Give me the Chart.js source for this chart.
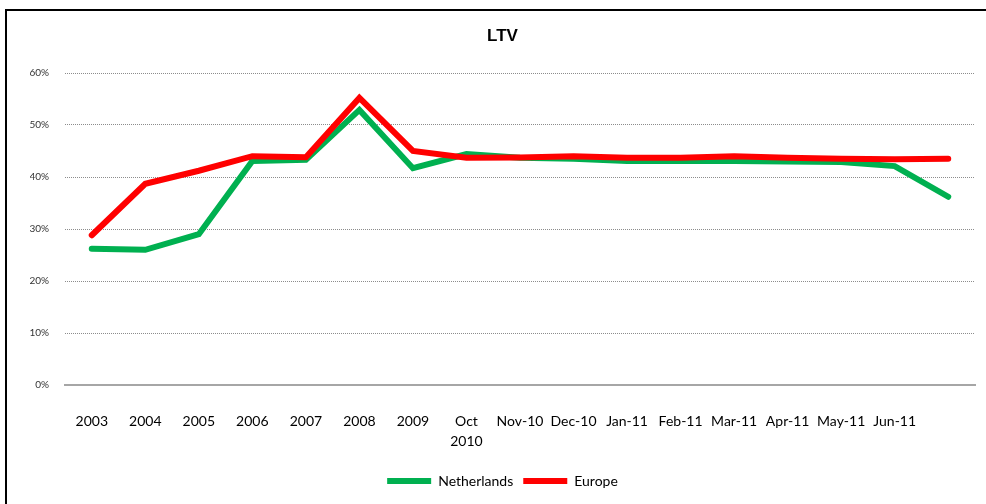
<!DOCTYPE html>
<html>
<head>
<meta charset="utf-8">
<script src="https://cdn.jsdelivr.net/npm/chart.js@4"></script>
<style>
    html, body { margin: 0; padding: 0; background: #fff; }
    #wrap { position: relative; width: 986px; height: 504px; overflow: hidden; }
    #frame { position: absolute; left: 5px; top: 9px; width: 1010px; height: 600px; border: 2px solid #000; pointer-events: none; }
</style>
</head>
<body>
<div id="wrap">
    <canvas id="lineChart" width="986" height="504"></canvas>
    <div id="frame"></div>
</div>
<script>
const categories = ["2003", "2004", "2005", "2006", "2007", "2008", "2009", ["Oct", "2010"],
    "Nov-10", "Dec-10", "Jan-11", "Feb-11", "Mar-11", "Apr-11", "May-11", "Jun-11", ""];
const netherlands = [26.2, 26.0, 29.0, 43.1, 43.3, 52.9, 41.7, 44.4, 43.7, 43.5, 43.1, 43.1, 43.1, 43.0, 42.9, 42.1, 36.2];
const europe = [28.8, 38.7, 41.2, 44.0, 43.8, 55.2, 45.0, 43.7, 43.75, 44.0, 43.7, 43.7, 44.0, 43.7, 43.5, 43.4, 43.5];
const yTicks = [0, 10, 20, 30, 40, 50, 60];

const bodyFont = "Lato, 'Open Sans', sans-serif";

new Chart(document.getElementById("lineChart"), {
    type: "line",
    data: {
        labels: categories,
        datasets: [{
            label: "Netherlands",
            data: netherlands,
            borderColor: "#00b050",
            backgroundColor: "#00b050",
            borderWidth: 6,
            pointRadius: 0,
            tension: 0,
            borderCapStyle: "round",
            order: 1
        }, {
            label: "Europe",
            data: europe,
            borderColor: "#ff0000",
            backgroundColor: "#ff0000",
            borderWidth: 6,
            pointRadius: 0,
            tension: 0,
            borderCapStyle: "round",
            order: 0
        }]
    },
    options: {
        responsive: false,
        animation: false,
        layout: { padding: { left: 30, right: 11, top: 0, bottom: 6 } },
        plugins: {
            title: {
                display: true,
                text: "LTV",
                color: "#000",
                font: { family: "'Liberation Sans', Arial, sans-serif", size: 17, weight: "bold" },
                padding: { top: 26, bottom: 26.6 }
            },
            legend: {
                position: "bottom",
                labels: {
                    boxWidth: 44,
                    boxHeight: 6,
                    padding: 10,
                    color: "#000",
                    useBorderRadius: true,
                    borderRadius: 3,
                    font: { family: bodyFont, size: 14 },
                    generateLabels: function (chart) {
                        return chart.data.datasets.map(function (ds, i) {
                            return {
                                text: ds.label,
                                fillStyle: ds.borderColor,
                                strokeStyle: ds.borderColor,
                                lineWidth: 0,
                                datasetIndex: i
                            };
                        });
                    }
                }
            },
            tooltip: { enabled: false }
        },
        scales: {
            x: {
                offset: true,
                grid: { display: false },
                border: { display: true, color: "#a6a6a6", width: 2 },
                afterFit: function (s) { s.height = 79; },
                ticks: {
                    color: "#000",
                    padding: 18,
                    maxRotation: 0,
                    autoSkip: false,
                    font: { family: bodyFont, size: 14, lineHeight: 1.45 }
                }
            },
            y: {
                min: 0,
                max: 60,
                afterFit: function (s) { s.width = 35; },
                afterBuildTicks: function (s) {
                    s.ticks = yTicks.map(function (v) { return { value: v }; });
                },
                border: { display: false, dash: [1, 1] },
                grid: {
                    drawTicks: false,
                    color: function (ctx) { return ctx.tick && ctx.tick.value === 0 ? "rgba(0,0,0,0)" : "#8c8c8c"; }
                },
                ticks: {
                    color: "#333",
                    padding: 16,
                    font: { family: bodyFont, size: 10 },
                    callback: function (v) { return v + "%"; }
                }
            }
        }
    }
});
</script>
</body>
</html>
